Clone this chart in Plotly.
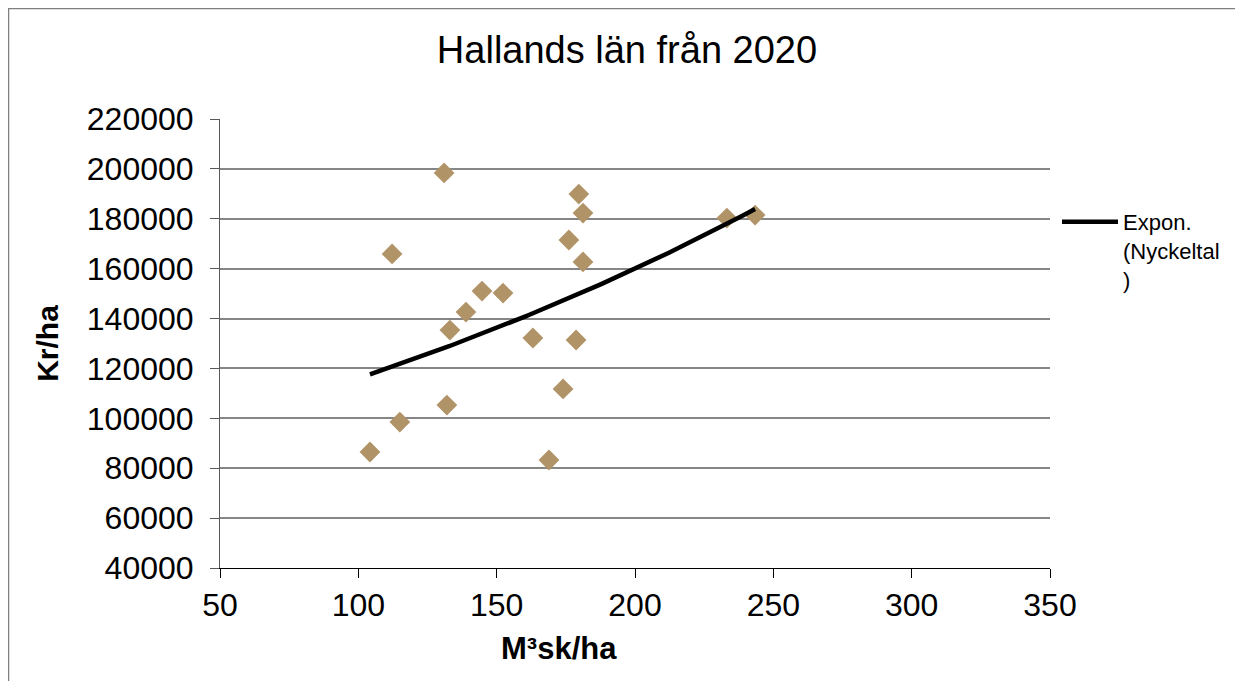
import numpy as np
import plotly.graph_objects as go

# Data
volume_m3sk = [104.2, 115.0, 132.0, 112.2, 131.0, 133.1, 138.9, 144.7, 152.3, 163.1,
               168.9, 174.0, 176.1, 178.7, 179.7, 181.2, 181.2, 233.2, 243.4]
price_kr = [86500, 98500, 105300, 165900, 198400, 135400, 142600, 151000, 150200, 132200,
            83300, 111800, 171500, 131400, 189900, 182300, 162700, 180300, 181500]

title_text = "Hallands län från 2020"
x_title = "M³sk/ha"
y_title = "Kr/ha"
trend_name = "Expon.<br>(Nyckeltal<br>)"

x_ticks = [50, 100, 150, 200, 250, 300, 350]
y_ticks = [40000, 60000, 80000, 100000, 120000, 140000, 160000, 180000, 200000, 220000]

# Exponential trendline (least squares on ln y), like a spreadsheet trendline
xa = np.array(volume_m3sk)
ya = np.array(price_kr)
b, ln_a = np.polyfit(xa, np.log(ya), 1)
trend_x = np.linspace(xa.min(), xa.max(), 100)
trend_y = np.exp(ln_a) * np.exp(b * trend_x)

# The page body has an 8px margin, so the figure is drawn 8px in from the window edge
OFF = 8
W, H = 1243 - OFF, 681 - OFF
L, T = 220 - OFF, 119 - OFF
pw, ph = 830, 449
R, B = W - L - pw, H - T - ph

fig = go.Figure()
fig.add_trace(go.Scatter(
    x=volume_m3sk, y=price_kr, mode="markers", name="Nyckeltal", showlegend=False,
    marker=dict(symbol="diamond", size=16, color="#B09468", line=dict(width=0)),
))
fig.add_trace(go.Scatter(
    x=trend_x, y=trend_y, mode="lines", name=trend_name,
    line=dict(color="#000000", width=4.5),
))

font_family = "Liberation Sans, Arial, sans-serif"

def px_x(p):  # screen pixel -> paper x
    return (p - OFF - L) / pw

def px_y(p):  # screen pixel -> paper y
    return (H - B - (p - OFF)) / ph

fig.update_layout(
    width=W, height=H,
    margin=dict(l=L, r=R, t=T, b=B, autoexpand=False),
    paper_bgcolor="white", plot_bgcolor="white",
    font=dict(family=font_family, color="#000000"),
    title=dict(text=title_text, x=(627 - OFF) / W, xanchor="center", y=1 - (50 - OFF) / H, yanchor="middle",
               font=dict(size=38, family=font_family, color="#000000")),
    xaxis=dict(
        range=[50, 350], tickvals=x_ticks, ticktext=[str(v) for v in x_ticks],
        showgrid=False, zeroline=False, showline=True, linecolor="#000000", linewidth=1,
        ticks="outside", ticklen=9, tickcolor="#000000", tickwidth=1,
        tickfont=dict(size=32, family=font_family, color="#000000"),
    ),
    yaxis=dict(
        range=[40000, 220000], tickvals=y_ticks, ticktext=[str(v) for v in y_ticks],
        showgrid=True, gridcolor="#868686", gridwidth=1.5, zeroline=False,
        showline=True, linecolor="#595959", linewidth=1,
        ticks="outside", ticklen=9, tickcolor="#595959", tickwidth=1,
        ticklabelstandoff=10,
        tickfont=dict(size=32, family=font_family, color="#000000"),
        title=dict(text="<b>" + y_title + "</b>", font=dict(size=30, family=font_family), standoff=19),
    ),
    legend=dict(
        x=px_x(1057), y=px_y(201), xanchor="left", yanchor="top",
        font=dict(size=22, family=font_family, color="#000000"),
        bgcolor="rgba(0,0,0,0)", valign="top", itemwidth=56,
    ),
    annotations=[dict(
        text="<b>" + x_title + "</b>", xref="paper", yref="paper",
        x=px_x(559), y=px_y(648), xanchor="center", yanchor="middle", showarrow=False,
        font=dict(size=31, family=font_family, color="#000000"),
    )],
    shapes=[dict(
        type="rect", xref="paper", yref="paper",
        x0=px_x(8.5), x1=px_x(1239), y0=px_y(700), y1=px_y(8.5),
        line=dict(color="#7f7f7f", width=1.5), fillcolor="rgba(0,0,0,0)", layer="below",
    )],
)

fig.write_html("out.html")
